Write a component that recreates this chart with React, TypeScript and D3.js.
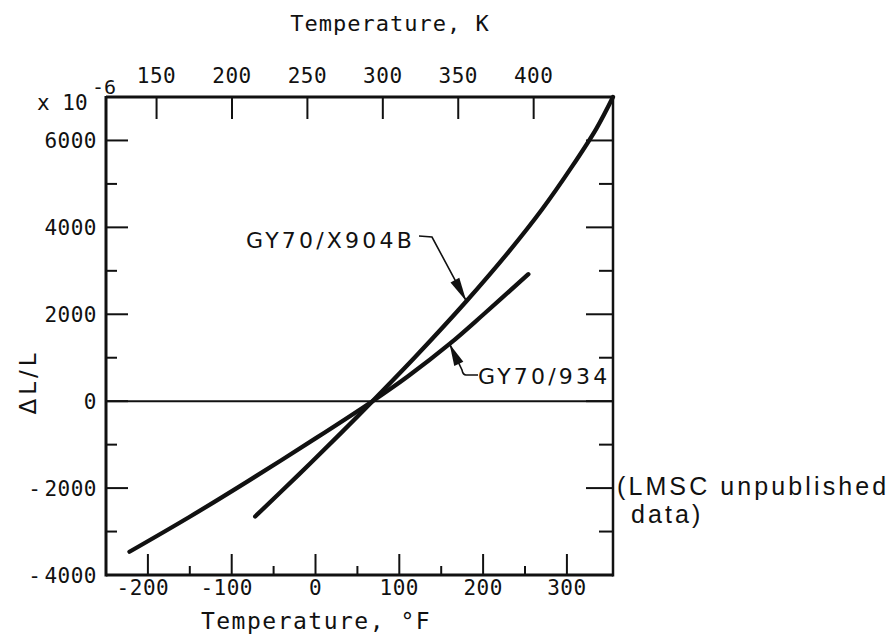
import React from "react";
import * as d3 from "d3";

// Thermal expansion of two graphite/epoxy laminates vs. temperature
const x904bTempF = [-72, -20, 30, 68, 120, 180, 230, 270, 305, 335, 355];
const x904bStrain = [-2653, -1691, -741, 0, 1040, 2300, 3425, 4405, 5368, 6268, 7000];

const gy934TempF = [-222, -150, -80, 0, 68, 110, 160, 200, 254];
const gy934Strain = [-3465, -2659, -1833, -857, 0, 567, 1317, 1989, 2923];

const fahrenheitTicks = [-200, -100, 0, 100, 200, 300];
const fahrenheitMinor = [-150, -50, 50, 150, 250];
const kelvinTicks = [150, 200, 250, 300, 350, 400];
const strainTicks = [-4000, -2000, 0, 2000, 4000, 6000];
const strainMinor = [-3000, -1000, 1000, 3000, 5000];

const kToF = (k: number) => k * 1.8 - 459.67;

const W = 891;
const H = 641;

export default function App() {
  const x = d3.scaleLinear().domain([-250, 355]).range([106, 613]);
  const y = d3.scaleLinear().domain([-4000, 7000]).range([575, 97]);
  const [x0, x1] = x.range();
  const [yb, yt] = y.range();

  const line = d3
    .line<[number, number]>()
    .x((d) => x(d[0]))
    .y((d) => y(d[1]))
    .curve(d3.curveCatmullRom.alpha(0.5));

  const x904b = line(x904bTempF.map((t, i) => [t, x904bStrain[i]]) as [number, number][]) || "";
  const gy934 = line(gy934TempF.map((t, i) => [t, gy934Strain[i]]) as [number, number][]) || "";

  const mono = "'DejaVu Sans Mono', monospace";
  const sans = "'DejaVu Sans', sans-serif";
  const helv = "'Liberation Sans', Arial, sans-serif";
  const ink = "#111";

  // arrow tips sit on the curves
  const tipA: [number, number] = [x(180), y(2300)];
  const tipB: [number, number] = [x(160), y(1317)];

  const arrowHead = (from: [number, number], tip: [number, number], len: number, half: number) => {
    const dx = tip[0] - from[0];
    const dy = tip[1] - from[1];
    const L = Math.hypot(dx, dy);
    const ux = dx / L;
    const uy = dy / L;
    const bx = tip[0] - ux * len;
    const by = tip[1] - uy * len;
    return `${tip[0]},${tip[1]} ${bx - uy * half},${by + ux * half} ${bx + uy * half},${by - ux * half}`;
  };

  const startA: [number, number] = [432, 238];
  const elbowB: [number, number] = [463, 373];

  const strainLabel = (v: number) =>
    v < 0 ? (
      <>
        <tspan>-</tspan>
        <tspan dx={3}>{Math.abs(v)}</tspan>
      </>
    ) : (
      `${v}`
    );

  return (
    <svg
      width={W}
      height={H}
      viewBox={`0 0 ${W} ${H}`}
      style={{ position: "absolute", left: 0, top: 0, background: "#fff" }}
    >
      <rect x={0} y={0} width={W} height={H} fill="#fff" />

      {/* frame */}
      <line x1={x0} y1={yt} x2={x1} y2={yt} stroke={ink} strokeWidth={3} />
      <line x1={x0} y1={yb} x2={x1} y2={yb} stroke={ink} strokeWidth={3} />
      <line x1={x0} y1={yt - 1} x2={x0} y2={yb + 1.5} stroke={ink} strokeWidth={3} />
      <line x1={x1} y1={yt - 1} x2={x1} y2={yb + 1.5} stroke={ink} strokeWidth={2.5} />

      {/* zero line */}
      <line x1={x0} y1={y(0)} x2={x1} y2={y(0)} stroke={ink} strokeWidth={2} />

      {/* left axis ticks */}
      {strainTicks.map((v) => (
        <line key={"lM" + v} x1={x0} x2={x0 + 22} y1={y(v)} y2={y(v)} stroke={ink} strokeWidth={2} />
      ))}
      {strainMinor.map((v) => (
        <line key={"lm" + v} x1={x0} x2={x0 + 11} y1={y(v)} y2={y(v)} stroke={ink} strokeWidth={2} />
      ))}
      {/* right axis ticks */}
      {strainTicks.map((v) => (
        <line key={"rM" + v} x1={x1} x2={x1 - 27} y1={y(v)} y2={y(v)} stroke={ink} strokeWidth={2} />
      ))}
      {strainMinor.map((v) => (
        <line key={"rm" + v} x1={x1} x2={x1 - 14} y1={y(v)} y2={y(v)} stroke={ink} strokeWidth={2} />
      ))}

      {/* bottom axis ticks */}
      {fahrenheitTicks.map((v) => (
        <line key={"bM" + v} x1={x(v)} x2={x(v)} y1={yb} y2={yb - 21} stroke={ink} strokeWidth={2} />
      ))}
      {fahrenheitMinor.map((v) => (
        <line key={"bm" + v} x1={x(v)} x2={x(v)} y1={yb} y2={yb - 9} stroke={ink} strokeWidth={2} />
      ))}

      {/* top axis (kelvin) ticks */}
      {kelvinTicks.map((k) => (
        <line key={"t" + k} x1={x(kToF(k))} x2={x(kToF(k))} y1={yt} y2={yt + 22} stroke={ink} strokeWidth={2} />
      ))}

      {/* curves */}
      <path d={x904b} fill="none" stroke={ink} strokeWidth={4.3} strokeLinecap="round" />
      <path d={gy934} fill="none" stroke={ink} strokeWidth={4.3} strokeLinecap="round" />

      {/* left tick labels */}
      {strainTicks.map((v) => (
        <text
          key={"ll" + v}
          x={x0 - 9}
          y={y(v) + 8}
          textAnchor="end"
          fontFamily={mono}
          fontSize={21}
          letterSpacing={0.5}
          fill={ink}
        >
          {strainLabel(v)}
        </text>
      ))}

      {/* bottom tick labels */}
      {fahrenheitTicks.map((v) => (
        <text
          key={"bl" + v}
          x={x(v) + (v < 0 ? -5 : 0)}
          y={yb + 20}
          textAnchor="middle"
          fontFamily={mono}
          fontSize={21}
          letterSpacing={0.5}
          fill={ink}
        >
          {v < 0 ? `-${Math.abs(v)}` : `${v}`}
        </text>
      ))}

      {/* top tick labels */}
      {kelvinTicks.map((k) => (
        <text
          key={"tl" + k}
          x={x(kToF(k))}
          y={yt - 14}
          textAnchor="middle"
          fontFamily={mono}
          fontSize={21}
          letterSpacing={0.5}
          fill={ink}
        >
          {k}
        </text>
      ))}

      {/* axis titles */}
      <text x={390} y={31} textAnchor="middle" fontFamily={mono} fontSize={22} letterSpacing={1} fill={ink}>
        Temperature, K
      </text>
      <text x={316} y={629} textAnchor="middle" fontFamily={mono} fontSize={23} letterSpacing={1.5} fill={ink}>
        Temperature, °F
      </text>
      <text
        transform={`translate(36, 382) rotate(-90)`}
        textAnchor="middle"
        fontFamily={sans}
        fontSize={23}
        letterSpacing={4}
        fill={ink}
      >
        ΔL/L
      </text>

      {/* multiplier */}
      <text x={37} y={110} fontFamily={mono} fontSize={21} fill={ink}>
        x 10
      </text>
      <text x={92} y={94} fontFamily={mono} fontSize={20} fill={ink}>
        -6
      </text>

      {/* GY70/X904B label with leader */}
      <text x={246} y={248} fontFamily={sans} fontSize={22} letterSpacing={3.2} fill={ink}>
        GY70/X904B
      </text>
      <path
        d={`M419,236 L${startA[0]},${startA[1] - 1} L${tipA[0]},${tipA[1]}`}
        fill="none"
        stroke={ink}
        strokeWidth={1.6}
      />
      <polygon points={arrowHead(startA, tipA, 24, 5)} fill={ink} />

      {/* GY70/934 label with leader */}
      <text x={478} y={384} fontFamily={sans} fontSize={22} letterSpacing={3.2} fill={ink}>
        GY70/934
      </text>
      <path
        d={`M478,375 L${elbowB[0] + 3},375 Q${elbowB[0]},375 ${elbowB[0] - 1},${elbowB[1] - 3} L${tipB[0]},${tipB[1]}`}
        fill="none"
        stroke={ink}
        strokeWidth={1.6}
      />
      <polygon points={arrowHead(elbowB, tipB, 22, 5)} fill={ink} />

      {/* source note */}
      <text x={617} y={495} fontFamily={helv} fontSize={25} letterSpacing={3.1} fill={ink}>
        (LMSC unpublished
      </text>
      <text x={631} y={523} fontFamily={helv} fontSize={25} letterSpacing={3.1} fill={ink}>
        data)
      </text>
    </svg>
  );
}
